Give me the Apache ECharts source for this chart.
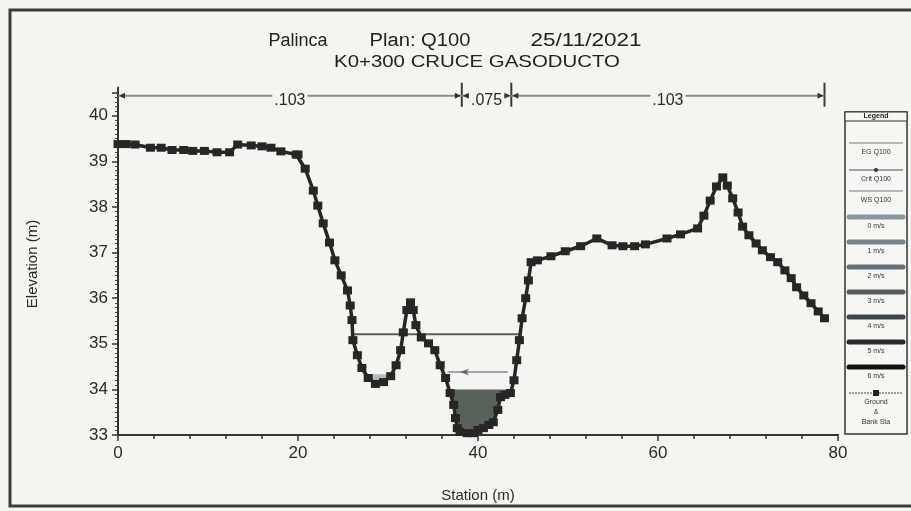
<!DOCTYPE html>
<html><head><meta charset="utf-8">
<script src="https://cdn.jsdelivr.net/npm/echarts/dist/echarts.min.js"></script>
<style>html,body{margin:0;padding:0;background:#f4f4f2}#c{width:911px;height:511px}</style>
</head><body><div id="c"></div>
<script>
// ---- data ----
const groundStation = [0,0.9,1.9,3.6,4.8,6.0,7.3,8.3,9.6,11.0,12.4,13.3,14.8,16.0,17.0,18.1,19.8,20.0,20.8,21.7,22.2,22.8,23.5,24.1,24.8,25.5,25.8,26.0,26.1,26.6,27.1,27.8,28.6,29.5,30.3,30.9,31.4,31.7,32.1,32.5,32.8,33.1,33.7,34.5,35.2,35.8,36.4,36.9,37.3,37.5,37.7,38.0,38.8,39.5,40.0,40.6,41.2,41.7,42.2,42.5,43.0,43.6,44.0,44.3,44.6,44.9,45.3,45.6,45.9,46.6,48.1,49.7,51.4,53.2,54.9,56.1,57.4,58.6,61.0,62.5,64.4,65.1,65.8,66.5,67.2,67.7,68.3,68.9,69.4,70.1,70.9,71.6,72.5,73.3,74.1,74.8,75.4,76.2,77.0,77.8,78.5];
const groundElev = [39.38,39.38,39.37,39.3,39.3,39.25,39.25,39.23,39.23,39.2,39.2,39.37,39.35,39.33,39.3,39.22,39.15,39.15,38.84,38.36,38.03,37.64,37.22,36.83,36.5,36.17,35.84,35.52,35.08,34.75,34.47,34.25,34.12,34.16,34.29,34.53,34.86,35.25,35.74,35.91,35.74,35.41,35.14,35.01,34.86,34.53,34.25,33.92,33.66,33.37,33.15,33.07,33.04,33.04,33.11,33.15,33.22,33.28,33.55,33.83,33.88,33.92,34.2,34.64,35.08,35.56,36.0,36.39,36.79,36.83,36.92,37.03,37.14,37.31,37.16,37.14,37.14,37.18,37.31,37.4,37.53,37.81,38.14,38.45,38.65,38.47,38.19,37.88,37.57,37.38,37.2,37.05,36.9,36.79,36.61,36.44,36.24,36.06,35.89,35.71,35.56];
const wsElev = 35.21, wsStations = [26.2, 44.6];
const critElev = 34.38, critStations = [36.6, 43.3], critArrowStation = 38.0;
const channelFillTop = 34.0, channelFillRange = [36.0, 44.5];
const pocketFillTop = 34.33, pocketFillRange = [27.0, 31.0];
const nBreaks = [0, 38.2, 43.7, 78.5];
const nValues = ['.103', '.075', '.103'];
const nElev = 40.44;
const titleParts = ['Palinca', 'Plan: Q100', '25/11/2021'];
const subTitle = 'K0+300 CRUCE GASODUCTO';
const legendLabels = ['EG Q100','Crit Q100','WS Q100','0 m/s','1 m/s','2 m/s','3 m/s','4 m/s','5 m/s','6 m/s'];
const groundLegend = ['Ground','&','Bank Sta'];
const xMin = 0, xMax = 80, xStep = 20, yMin = 33, yMax = 40.5, yStep = 1;

// ---- helpers ----
const ground = groundStation.map((s,i)=>[s, groundElev[i]]);
function underPoly(top, xa, xb){
  const pts=[];
  for(let i=0;i<ground.length-1;i++){
    const [s0,e0]=ground[i],[s1,e1]=ground[i+1];
    if(s1<xa||s0>xb) continue;
    const b0=e0<top,b1=e1<top;
    if(b0&&s0>=xa) pts.push([s0,e0]);
    if(b0!==b1){const t=(top-e0)/(e1-e0);pts.push([s0+t*(s1-s0),top]);}
  }
  return pts;
}
const channelPoly = underPoly(channelFillTop, channelFillRange[0], channelFillRange[1]);
const pocketPoly = underPoly(pocketFillTop, pocketFillRange[0], pocketFillRange[1]);

const chart = echarts.init(document.getElementById('c'), null, {renderer:'canvas'});
const F = 'Liberation Sans, Arial, sans-serif';
const ink = '#2a2a2a';

// legend graphics
const LX = 845, LW = 62;
const legendG = [
  {type:'rect', shape:{x:LX,y:112,width:LW,height:322}, style:{fill:'#f6f6f4',stroke:'#333',lineWidth:1.5}},
  {type:'rect', shape:{x:LX,y:112,width:LW,height:9}, style:{fill:'#f6f6f4',stroke:'#333',lineWidth:1}},
  {type:'text', x:LX+LW/2, y:116.5, style:{text:'Legend', font:'bold 7px '+F, fill:'#222', align:'center', verticalAlign:'middle'}}
];
const lineStyles = [
  {y:143, stroke:'#b9b9a6', w:2},
  {y:170, stroke:'#7f8888', w:1.5, dot:true},
  {y:191, stroke:'#a9bcc4', w:2}
];
const velColors = ['#8a979b','#77848a','#667176','#535d61','#3e4649','#272c2d','#121212'];
for (let i=0;i<legendLabels.length;i++){
  let y;
  if(i<3){ y=lineStyles[i].y;
    legendG.push({type:'line', shape:{x1:LX+4,y1:y,x2:LX+LW-4,y2:y}, style:{stroke:lineStyles[i].stroke,lineWidth:lineStyles[i].w}});
    if(lineStyles[i].dot) legendG.push({type:'circle', shape:{cx:LX+LW/2,cy:y,r:2}, style:{fill:'#333'}});
  } else { y = 217 + (i-3)*25;
    legendG.push({type:'line', shape:{x1:LX+4,y1:y,x2:LX+LW-4,y2:y}, style:{stroke:velColors[i-3],lineWidth:5,lineCap:'round'}});
  }
  legendG.push({type:'text', x:LX+LW/2, y:y+9, style:{text:legendLabels[i], font:'7px '+F, fill:'#333', align:'center', verticalAlign:'middle'}});
}
legendG.push({type:'line', shape:{x1:LX+4,y1:393,x2:LX+LW-4,y2:393}, style:{stroke:'#444',lineWidth:1.2,lineDash:[2,1]}});
legendG.push({type:'rect', shape:{x:LX+LW/2-3,y:390,width:6,height:6}, style:{fill:'#222'}});
groundLegend.forEach((t,k)=>legendG.push({type:'text', x:LX+LW/2, y:402+k*10, style:{text:t, font:'7px '+F, fill:'#333', align:'center', verticalAlign:'middle'}}));

const titleX = [298, 420, 586];
const titleScale = [1.0, 1.12, 1.25];
const titleG = titleParts.map((t,i)=>({type:'text', x:titleX[i], y:41, scaleX:titleScale[i], style:{text:t, font:'18px '+F, fill:'#222', align:'center', verticalAlign:'middle'}}));
titleG.push({type:'text', x:477, y:62, scaleX:1.2, style:{text:subTitle, font:'17px '+F, fill:'#222', align:'center', verticalAlign:'middle'}});

const option = {
  backgroundColor:'#f4f4f2',
  animation:false,
  grid:{left:118, right:73, top:93, bottom:76, containLabel:false},
  xAxis:{type:'value', min:xMin, max:xMax, interval:xStep,
    name:'Station (m)', nameLocation:'middle', nameGap:53, nameTextStyle:{fontFamily:F,fontSize:15,color:ink},
    axisLine:{onZero:false, lineStyle:{color:'#333',width:2}},
    axisTick:{length:6, lineStyle:{color:'#333',width:1.5}},
    minorTick:{show:true, splitNumber:5, length:4, lineStyle:{color:'#333',width:1.5}},
    axisLabel:{fontFamily:F, fontSize:17, color:ink, margin:10},
    splitLine:{show:false}},
  yAxis:{type:'value', min:yMin, max:yMax, interval:yStep,
    name:'Elevation (m)', nameLocation:'middle', nameGap:78, nameRotate:90, nameTextStyle:{fontFamily:F,fontSize:15,color:ink},
    axisLine:{onZero:false, lineStyle:{color:'#333',width:2}},
    axisTick:{length:6, lineStyle:{color:'#333',width:1.5}},
    minorTick:{show:true, splitNumber:10, length:3, lineStyle:{color:'#444',width:1}},
    axisLabel:{fontFamily:F, fontSize:17, color:ink, margin:10, formatter:v=>Number.isInteger(v)?String(v):''},
    splitLine:{show:false}},
  graphic:[
    {type:'rect', shape:{x:10,y:10,width:920,height:496}, style:{fill:'none',stroke:'#3c3c3c',lineWidth:3}, z:100},
    ...titleG, ...legendG
  ],
  series:[
    {type:'custom', coordinateSystem:'cartesian2d', data:[[0,33]], z:1,
     renderItem:(p,api)=>({type:'polygon', shape:{points:pocketPoly.map(q=>api.coord(q))}, style:{fill:'#b3bbbb'}})},
    {type:'custom', coordinateSystem:'cartesian2d', data:[[0,33]], z:1,
     renderItem:(p,api)=>({type:'polygon', shape:{points:channelPoly.map(q=>api.coord(q))}, style:{fill:'#59615d'}})},
    {type:'line', data:wsStations.map(s=>[s,wsElev]), showSymbol:false, z:2,
     lineStyle:{color:'#5c5c5c', width:2}},
    {type:'line', data:critStations.map(s=>[s,critElev]), showSymbol:false, z:2,
     lineStyle:{color:'#9aa7a7', width:2}},
    {type:'scatter', data:[[critArrowStation,critElev]], symbol:'arrow', symbolRotate:90, symbolSize:[5,9], z:3,
     itemStyle:{color:'#555'}},
    {type:'line', data:ground, z:5, symbol:'rect', symbolSize:[9,8], showAllSymbol:true,
     lineStyle:{color:'#262626', width:3.5}, itemStyle:{color:'#262626'}},
    {type:'custom', coordinateSystem:'cartesian2d', data:[[0,33]], z:6, clip:false,
     renderItem:(p,api)=>{
       const ch=[];
       const y=api.coord([0,nElev])[1];
       const xs=nBreaks.map(b=>api.coord([b,nElev])[0]);
       xs.forEach((x,i)=>{
         const big = i>0;
         ch.push({type:'line', shape:{x1:x,y1:y-(big?13:9),x2:x,y2:y+(big?11:9)}, style:{stroke:'#3a3a3a',lineWidth:2}});
       });
       for(let i=0;i<nValues.length;i++){
         const a=xs[i], b=xs[i+1];
         ch.push({type:'line', shape:{x1:a,y1:y,x2:b,y2:y}, style:{stroke:'#8a8a8a',lineWidth:2}});
         ch.push({type:'polygon', shape:{points:[[a+1,y],[a+7,y-3],[a+7,y+3]]}, style:{fill:'#333'}});
         ch.push({type:'polygon', shape:{points:[[b-1,y],[b-7,y-3],[b-7,y+3]]}, style:{fill:'#333'}});
         ch.push({type:'text', x:(a+b)/2, y:y+5, style:{text:nValues[i], font:'16px '+F, fill:'#2a2a2a', align:'center', verticalAlign:'middle', backgroundColor:'#f4f4f2', padding:[0,2]}});
       }
       return {type:'group', children:ch};
     }}
  ]
};
chart.setOption(option);
</script>
</body></html>
